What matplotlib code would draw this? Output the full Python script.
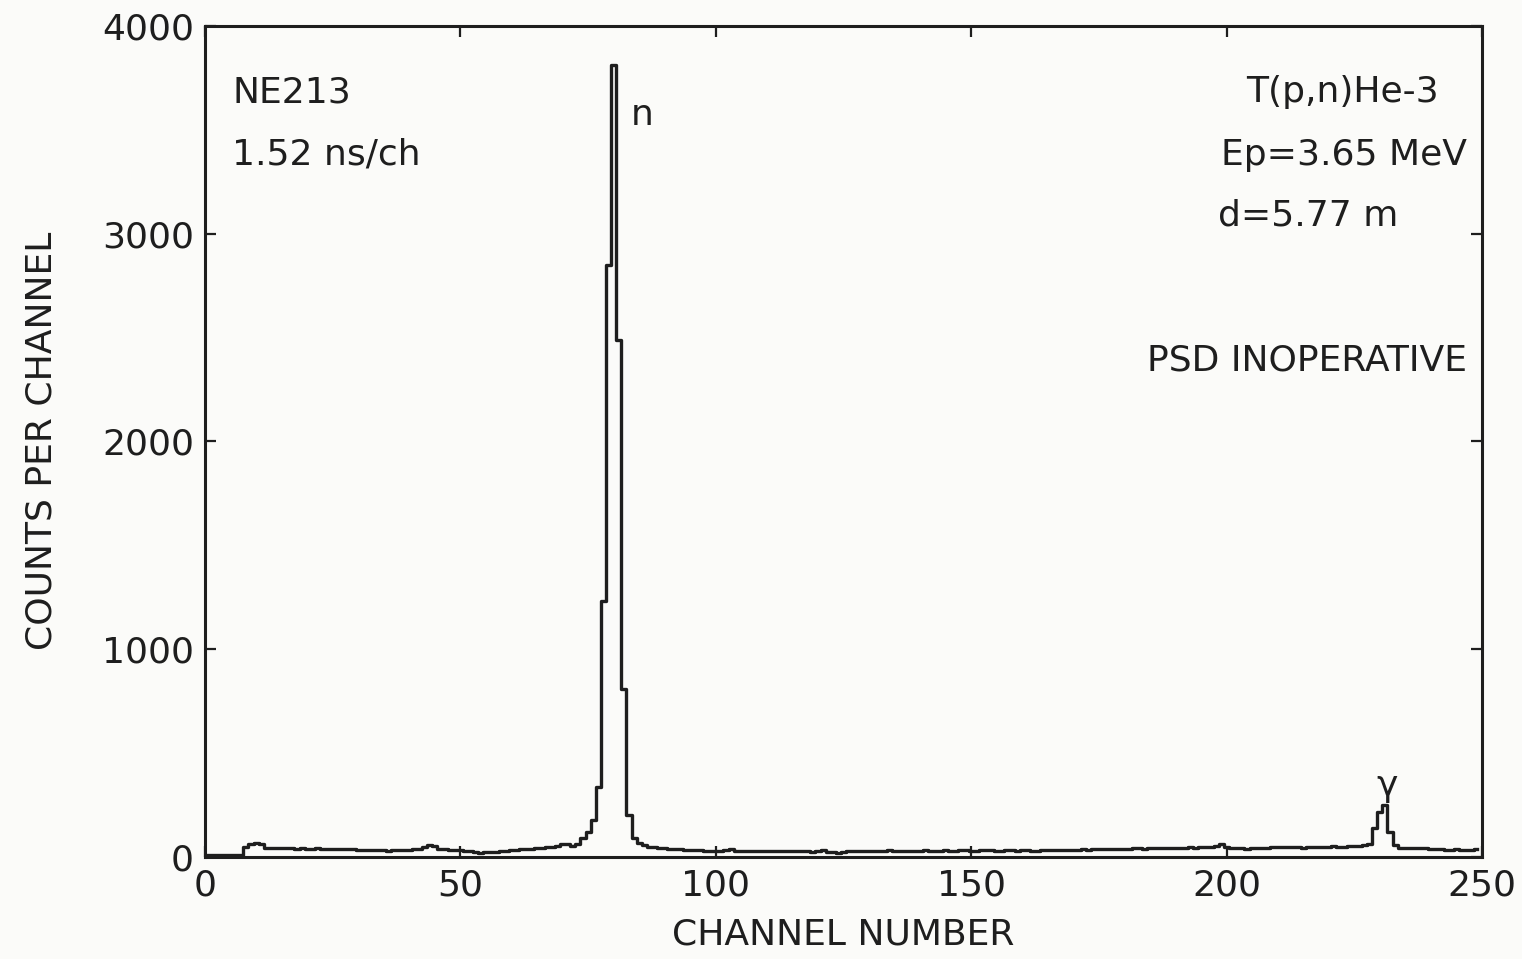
import numpy as np
import matplotlib.pyplot as plt

# counts per channel (channels 0..249)
counts = (
    [10, 10, 10, 10, 10, 10, 10, 10, 48, 64]
    + [66, 62, 45, 42, 44, 43, 41, 42, 40, 41]
    + [40, 39, 41, 38, 40, 39, 37, 38, 36, 37]
    + [35, 34, 33, 35, 32, 33, 31, 32, 34, 33]
    + [35, 38, 40, 48, 56, 52, 40, 36, 34, 35]
    + [33, 30, 28, 24, 20, 22, 25, 26, 28, 30]
    + [32, 34, 36, 38, 40, 43, 45, 48, 50, 55]
    + [60, 62, 52, 60, 90, 120, 178, 338, 1230, 2850]
    + [3810, 2490, 810, 200, 92, 68, 58, 50, 46, 44]
    + [42, 40, 38, 36, 35, 34, 33, 32, 31, 30]
    + [31, 30, 32, 36, 30, 29, 31, 30, 28, 30]
    + [29, 31, 30, 28, 27, 29, 30, 28, 27, 26]
    + [28, 33, 26, 22, 20, 24, 28, 30, 31, 29]
    + [30, 28, 29, 31, 33, 30, 29, 28, 30, 31]
    + [29, 32, 30, 28, 31, 33, 30, 29, 32, 34]
    + [31, 30, 33, 35, 32, 30, 31, 34, 33, 30]
    + [32, 34, 31, 30, 33, 35, 34, 32, 33, 35]
    + [34, 33, 36, 35, 37, 38, 36, 38, 40, 39]
    + [38, 40, 42, 41, 40, 43, 42, 44, 42, 41]
    + [43, 45, 44, 46, 45, 47, 48, 50, 55, 62]
    + [50, 45, 42, 44, 40, 43, 45, 44, 42, 46]
    + [48, 46, 47, 50, 48, 45, 48, 50, 49, 47]
    + [50, 52, 50, 48, 52, 55, 53, 58, 60, 140]
    + [218, 250, 122, 58, 45, 42, 43, 44, 42, 41]
    + [40, 38, 36, 35, 34, 36, 35, 33, 34, 40]
)
channels = np.arange(len(counts))

x_ticks = [0, 50, 100, 150, 200, 250]
y_ticks = [0, 1000, 2000, 3000, 4000]

ink = '#1e1e1e'
paper = '#fbfbf9'
fs = 26

plt.rcParams['font.family'] = ['DejaVu Sans']

fig = plt.figure(figsize=(15.22, 9.59), dpi=100, facecolor=paper)
ax = fig.add_axes([0.1347, 0.1064, 0.839, 0.8665])
ax.set_facecolor(paper)

ax.step(channels, counts, where='mid', color=ink, lw=2.4)

ax.set_xlim(0, 250)
ax.set_ylim(0, 4000)
ax.set_xticks(x_ticks)
ax.set_yticks(y_ticks)
ax.tick_params(direction='in', length=8, width=1.6, color=ink,
               top=True, right=True, labelsize=fs, labelcolor=ink)
ax.tick_params(axis='x', pad=8)
ax.tick_params(axis='y', pad=8)
for s in ax.spines.values():
    s.set_linewidth(2.2)
    s.set_color(ink)

fig.text(0.554, 0.026, 'CHANNEL NUMBER', fontsize=fs, color=ink,
         ha='center', va='center')
fig.text(0.027, 0.54, 'COUNTS PER CHANNEL', rotation=90, fontsize=fs,
         color=ink, ha='center', va='center')

ax.text(5.3, 3680, 'NE213', fontsize=fs, color=ink, va='center')
ax.text(5.3, 3380, '1.52 ns/ch', fontsize=fs, color=ink, va='center')
ax.text(85.5, 3570, 'n', fontsize=fs, color=ink, va='center', ha='center')
ax.text(241.5, 3680, 'T(p,n)He-3', fontsize=fs, color=ink, va='center', ha='right')
ax.text(247, 3380, 'Ep=3.65 MeV', fontsize=fs, color=ink, va='center', ha='right')
ax.text(216, 3090, 'd=5.77 m', fontsize=fs, color=ink, va='center', ha='center')
ax.text(247, 2392, 'PSD INOPERATIVE', fontsize=fs, color=ink, va='center', ha='right')
ax.text(231.4, 340, 'γ', fontsize=fs, color=ink, va='center', ha='center')

fig.savefig('out.png', dpi=100, facecolor=paper)
